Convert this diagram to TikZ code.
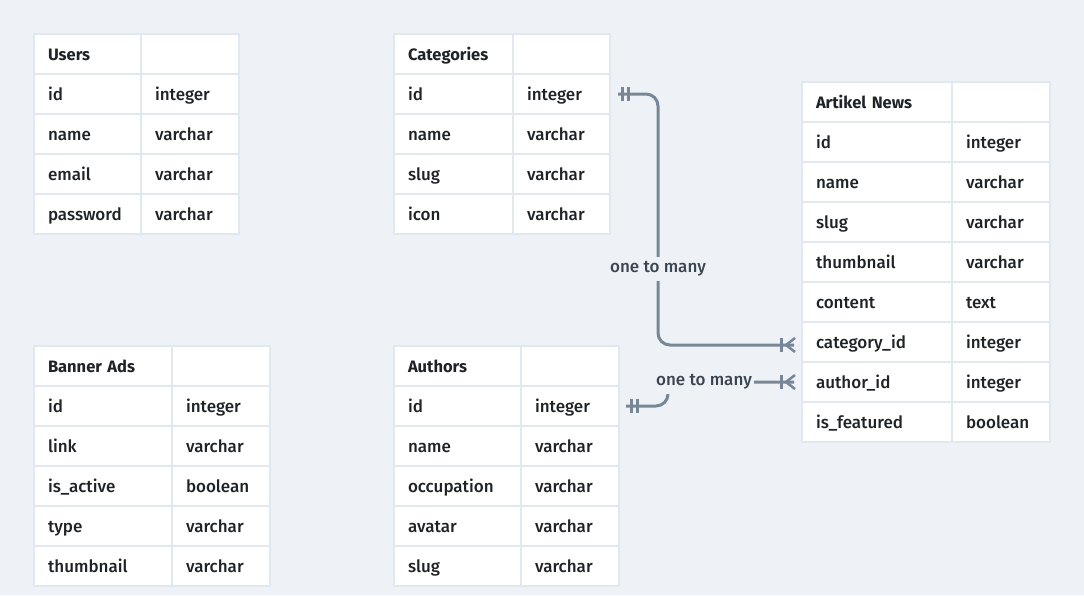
\documentclass[tikz,border=0pt]{standalone}
\usepackage{fontspec}
\setmainfont{Fira Sans}[UprightFont={* Medium},BoldFont={* Bold}]
\usepackage{tikz}
\usetikzlibrary{positioning}

\definecolor{bgcol}{HTML}{EEF2F6}
\definecolor{gridcol}{HTML}{E2E8F0}
\definecolor{relcol}{HTML}{788797}
\definecolor{fieldcol}{HTML}{1F2328}
\definecolor{labelcol}{HTML}{3B4550}

\begin{document}
\begin{tikzpicture}[
    x=1pt,y=-1pt,
    cell/.style={rectangle,draw=gridcol,fill=white,line width=2pt,minimum height=40pt,inner xsep=14pt,inner ysep=0pt,outer sep=0pt,anchor=north west,align=left,text height=12pt,text depth=0pt,text=fieldcol,font=\fontsize{17}{20}\selectfont},
    head/.style={font=\fontsize{16.5}{20}\selectfont\bfseries},
    rel/.style={draw=relcol,line width=3pt,rounded corners=12pt},
    relmark/.style={draw=relcol,line width=3pt},
    rellabel/.style={fill=bgcol,text=labelcol,inner xsep=2pt,inner ysep=5pt,font=\fontsize{17}{20}\selectfont}
]
\useasboundingbox (0,0) rectangle (1084,595);
\fill[bgcol] (0,0) rectangle (1084,595);

% Users
\node[cell,head,text width=79pt] (usr-0) at (34,34) {Users};
\node[cell,text width=70pt,right=0pt of usr-0] (usr-0-t) {};
\foreach \f/\t [count=\i] in {id/integer,name/varchar,email/varchar,password/varchar}{
  \node[cell,text width=79pt] (usr-\i) at (34,34+40*\i) {\f};
  \node[cell,text width=70pt,right=0pt of usr-\i] (usr-\i-t) {\t};
}

% Categories
\node[cell,head,text width=91pt] (cat-0) at (394,34) {Categories};
\node[cell,text width=69pt,right=0pt of cat-0] (cat-0-t) {};
\foreach \f/\t [count=\i] in {id/integer,name/varchar,slug/varchar,icon/varchar}{
  \node[cell,text width=91pt] (cat-\i) at (394,34+40*\i) {\f};
  \node[cell,text width=69pt,right=0pt of cat-\i] (cat-\i-t) {\t};
}

% Artikel News
\node[cell,head,text width=122pt] (art-0) at (802,82) {Artikel News};
\node[cell,text width=70pt,right=0pt of art-0] (art-0-t) {};
\foreach \f/\t [count=\i] in {id/integer,name/varchar,slug/varchar,thumbnail/varchar,content/text,category\_id/integer,author\_id/integer,is\_featured/boolean}{
  \node[cell,text width=122pt] (art-\i) at (802,82+40*\i) {\f};
  \node[cell,text width=70pt,right=0pt of art-\i] (art-\i-t) {\t};
}

% Banner Ads
\node[cell,head,text width=110pt] (ban-0) at (34,346) {Banner Ads};
\node[cell,text width=70pt,right=0pt of ban-0] (ban-0-t) {};
\foreach \f/\t [count=\i] in {id/integer,link/varchar,is\_active/boolean,type/varchar,thumbnail/varchar}{
  \node[cell,text width=110pt] (ban-\i) at (34,346+40*\i) {\f};
  \node[cell,text width=70pt,right=0pt of ban-\i] (ban-\i-t) {\t};
}

% Authors
\node[cell,head,text width=99pt] (aut-0) at (394,346) {Authors};
\node[cell,text width=70pt,right=0pt of aut-0] (aut-0-t) {};
\foreach \f/\t [count=\i] in {id/integer,name/varchar,occupation/varchar,avatar/varchar,slug/varchar}{
  \node[cell,text width=99pt] (aut-\i) at (394,346+40*\i) {\f};
  \node[cell,text width=70pt,right=0pt of aut-\i] (aut-\i-t) {\t};
}

% relations
\draw[rel] ([xshift=8pt]cat-1-t.east) -- ++(40,0) |- ([xshift=-8pt,yshift=-3pt]art-6.west);
\node[rellabel] (rel-cat) at (658,269) {one to many};
\draw[rel] ([xshift=7pt]aut-1-t.east) -- ++(42,0) |- ([xshift=-8pt]art-7.west);
\node[rellabel] (rel-aut) at (704,382) {one to many};

% one markers
\draw[relmark] ([xshift=12pt]cat-1-t.east) ++(0,-7) -- ++(0,14);
\draw[relmark] ([xshift=18pt]cat-1-t.east) ++(0,-7) -- ++(0,14);
\draw[relmark] ([xshift=12pt]aut-1-t.east) ++(0,-7) -- ++(0,14);
\draw[relmark] ([xshift=18pt]aut-1-t.east) ++(0,-7) -- ++(0,14);

% many markers
\draw[relmark] ([xshift=-21pt,yshift=-3pt]art-6.west) ++(0,-7) -- ++(0,14);
\draw[relmark,line width=2.5pt] ([xshift=-16pt,yshift=-3pt]art-6.west) -- ++(9,-7)
  ([xshift=-16pt,yshift=-3pt]art-6.west) -- ++(9,7);
\draw[relmark] ([xshift=-21pt]art-7.west) ++(0,-7) -- ++(0,14);
\draw[relmark,line width=2.5pt] ([xshift=-16pt]art-7.west) -- ++(9,-7)
  ([xshift=-16pt]art-7.west) -- ++(9,7);
\end{tikzpicture}
\end{document}
